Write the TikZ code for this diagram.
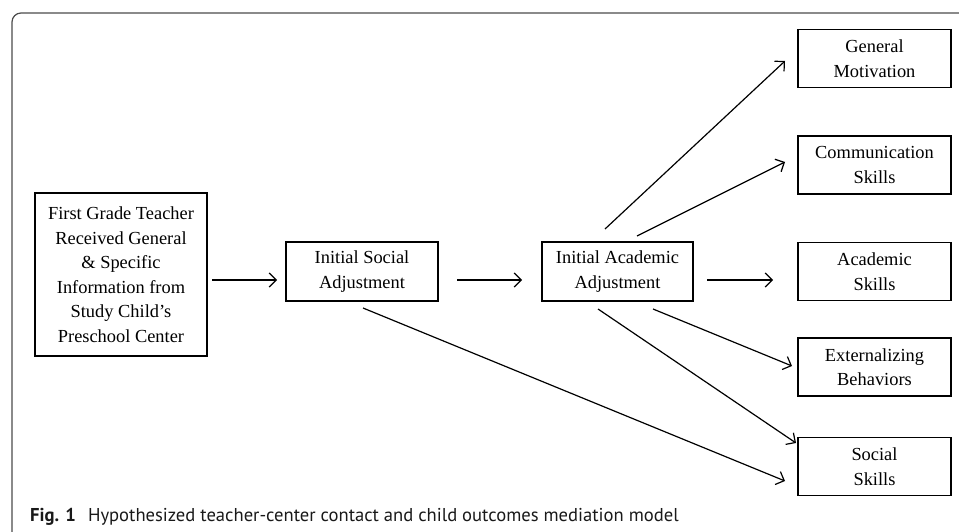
\documentclass[tikz,border=0pt]{standalone}
\usepackage{fontspec}
\setmainfont{Liberation Serif}
\newfontfamily\capfont{PT Sans}
\usetikzlibrary{arrows.meta}
\begin{document}
\begin{tikzpicture}[x=1pt,y=1pt,
  box/.style={draw=black,line width=1.3pt,align=center,inner sep=0pt,
    font=\fontsize{18.4}{24.5}\selectfont},
  outbox/.style={box,minimum width=153pt,minimum height=58pt},
  conn/.style={line width=1.2pt,-{Straight Barb[length=7pt,width=14pt,line width=1.2pt]}}]
\useasboundingbox (0,0) rectangle (959,531);
\draw[line width=1.2pt,draw=black!70,rounded corners=9pt] (12,-20) -- (12,518) -- (980,518);
\node[box,minimum width=172pt,minimum height=163pt] (src) at (121,256.5)
  {First Grade Teacher\\Received General\\\& Specific\\Information from\\Study Child’s\\Preschool Center};
\node[box,minimum width=152pt,minimum height=59pt] (soc) at (362,259.5) {Initial Social\\Adjustment};
\node[box,minimum width=151pt,minimum height=59pt] (aca) at (617.5,259.5) {Initial Academic\\Adjustment};
\node[outbox] (gm) at (874.5,472.5) {General\\Motivation};
\node[outbox] (cs) at (874.5,366) {Communication\\Skills};
\node[outbox] (as) at (874.5,259.5) {Academic\\Skills};
\node[outbox] (eb) at (874.5,164) {Externalizing\\Behaviors};
\node[outbox] (ss) at (874.5,64.5) {Social\\Skills};
% connector end points
\coordinate (s1) at (212,251); \coordinate (e1) at (277,251);
\coordinate (s2) at (457,251); \coordinate (e2) at (522,251);
\coordinate (s3) at (707,251); \coordinate (e3) at (773,251);
\coordinate (s4) at (605,302); \coordinate (e4) at (785,470);
\coordinate (s5) at (637,295); \coordinate (e5) at (785,369);
\coordinate (s6) at (653,222); \coordinate (e6) at (792,165);
\coordinate (s7) at (598,222); \coordinate (e7) at (796,88);
\coordinate (s8) at (363,223); \coordinate (e8) at (785,50);
\draw[conn] (s1) -- (e1);
\draw[conn] (s2) -- (e2);
\draw[conn] (s3) -- (e3);
\draw[conn] (s4) -- (e4);
\draw[conn] (s5) -- (e5);
\draw[conn] (s6) -- (e6);
\draw[conn] (s7) -- (e7);
\draw[conn] (s8) -- (e8);
\node[anchor=base west,inner sep=0pt,font=\capfont\fontsize{18.6}{21}\selectfont,text=black!90] (cap) at (30,10)
  {\textbf{Fig. 1}\hspace{12pt}Hypothesized teacher-center contact and child outcomes mediation model};
\end{tikzpicture}
\end{document}
